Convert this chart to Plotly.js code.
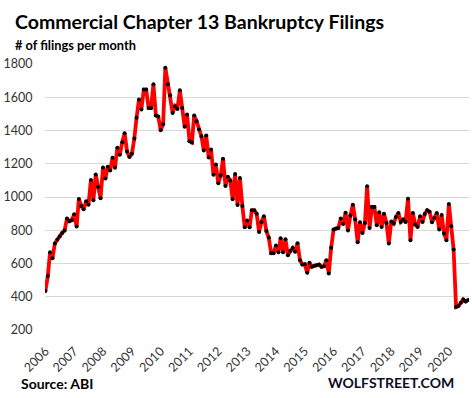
<!DOCTYPE html>
<html>
<head>
<meta charset="utf-8">
<script src="https://cdn.plot.ly/plotly-3.0.1.min.js"></script>
<style>html,body{margin:0;padding:0;background:#fff;}#chart{width:472px;height:398px;}</style>
</head>
<body>
<div id="chart"></div>
<script>
// Monthly filings, Jan 2006 .. Sep 2020
const startYear = 2006;
const filings2006_2009 = [
  435, 525, 668, 632, 720, 744, 764, 784, 798, 870, 854, 860,
  896, 822, 988, 946, 926, 974, 954, 1102, 980, 1136, 1060, 992,
  1178, 1112, 1182, 1160, 1236, 1176, 1296, 1254, 1330, 1384, 1274, 1240,
  1260, 1352, 1476, 1586, 1526, 1646, 1646, 1536, 1536, 1678, 1490, 1484
];
const filings2010_2013 = [
  1402, 1438, 1778, 1678, 1612, 1506, 1546, 1530, 1642, 1536, 1422, 1496,
  1336, 1328, 1490, 1456, 1406, 1366, 1280, 1370, 1238, 1286, 1134, 1196,
  1082, 1130, 1230, 1066, 1122, 1100, 986, 1138, 952, 1114, 946, 818,
  858, 818, 920, 920, 900, 790, 850, 884, 796, 756, 662, 662
];
const filings2014_2017 = [
  708, 668, 752, 668, 746, 650, 675, 693, 670, 722, 620, 594,
  596, 544, 604, 580, 586, 590, 594, 580, 584, 620, 540, 694,
  804, 810, 814, 870, 838, 906, 798, 888, 954, 864, 728, 848,
  784, 844, 1064, 814, 940, 940, 830, 908, 820, 900, 844, 720
];
const filings2018_2020 = [
  852, 840, 880, 904, 850, 864, 850, 990, 740, 904, 834, 820,
  884, 850, 898, 920, 912, 848, 874, 904, 804, 892, 780, 740,
  958, 824, 684, 338, 344, 364, 384, 372, 380
];
const filings = [].concat(filings2006_2009, filings2010_2013, filings2014_2017, filings2018_2020);
const yearLabels = ['2006','2007','2008','2009','2010','2011','2012','2013','2014','2015','2016','2017','2018','2019','2020'];
const yTicks = [200, 400, 600, 800, 1000, 1200, 1400, 1600, 1800];

const months = filings.map((_, i) => {
  const y = startYear + Math.floor(i / 12);
  const m = (i % 12) + 1;
  return y + '-' + (m < 10 ? '0' + m : m) + '-01';
});
const tickVals = yearLabels.map(y => y + '-01-01');

const trace = {
  x: months, y: filings, type: 'scatter', mode: 'lines+markers',
  line: {color: '#ff0000', width: 3.8},
  marker: {color: '#000000', size: 4},
  hoverinfo: 'skip'
};

const L = 45, R = 3, T = 64, B = 68, W = 472, H = 398;
const pw = W - L - R, ph = H - T - B;
const px = v => (v - L) / pw;
const py = v => (H - B - v) / ph;

const layout = {
  width: W, height: H,
  margin: {l: L, r: R, t: T, b: B},
  paper_bgcolor: '#ffffff', plot_bgcolor: '#ffffff',
  showlegend: false,
  font: {family: 'Lato, "Open Sans", sans-serif', color: '#333333'},
  xaxis: {
    type: 'date',
    range: ['2005-12-27', '2020-09-12'],
    tickvals: tickVals, ticktext: yearLabels,
    tickangle: -45,
    tickfont: {size: 12.5, color: '#333333', family: 'Lato, sans-serif'},
    showgrid: false, zeroline: false, showline: false,
    ticks: 'outside', ticklen: 8, tickcolor: 'rgba(0,0,0,0)'
  },
  yaxis: {
    range: [200, 1800],
    tickvals: yTicks,
    tickfont: {size: 12.5, color: '#333333', family: 'Lato, sans-serif'},
    showgrid: true, gridcolor: '#d9d9d9', gridwidth: 1,
    zeroline: false, showline: false,
    ticks: 'outside', ticklen: 9, tickcolor: 'rgba(0,0,0,0)'
  },
  annotations: [
    {text: '<b>Commercial Chapter 13 Bankruptcy Filings</b>', xref: 'paper', yref: 'paper',
     x: px(13), y: py(22), xanchor: 'left', yanchor: 'middle', showarrow: false,
     font: {size: 19.5, color: '#000000', family: 'Lato, sans-serif'}},
    {text: '<b># of filings per month</b>', xref: 'paper', yref: 'paper',
     x: px(13), y: py(44.5), xanchor: 'left', yanchor: 'middle', showarrow: false,
     font: {size: 12.8, color: '#000000', family: 'Lato, sans-serif'}},
    {text: '<b>Source: ABI</b>', xref: 'paper', yref: 'paper',
     x: px(19), y: py(383), xanchor: 'left', yanchor: 'middle', showarrow: false,
     font: {size: 14, color: '#000000', family: 'Lato, sans-serif'}},
    {text: '<b>WOLFSTREET.COM</b>', xref: 'paper', yref: 'paper',
     x: px(456), y: py(382), xanchor: 'right', yanchor: 'middle', showarrow: false,
     font: {size: 14, color: '#0d0d26', family: 'Lato, sans-serif'}}
  ]
};

Plotly.newPlot('chart', [trace], layout, {displayModeBar: false, staticPlot: true});
</script>
</body>
</html>
